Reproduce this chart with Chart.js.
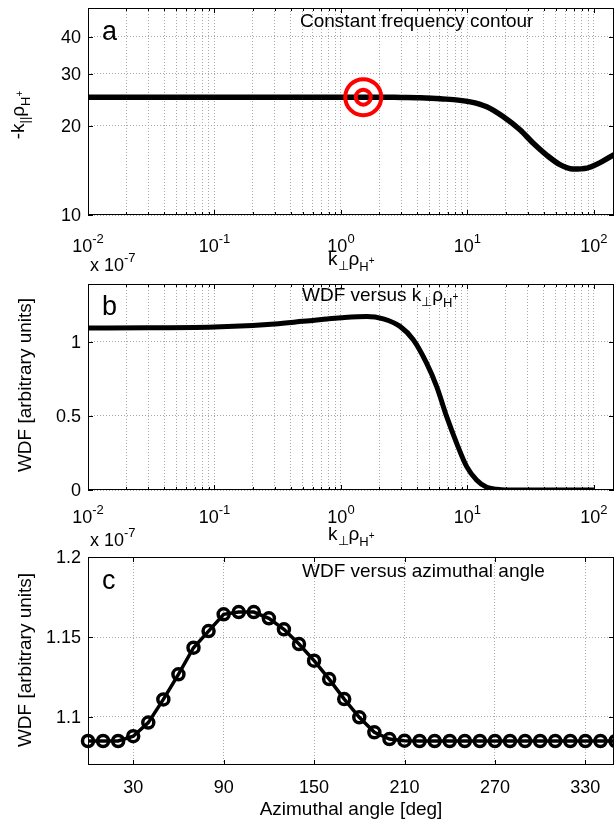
<!DOCTYPE html>
<html>
<head>
<meta charset="utf-8">
<script src="https://cdn.jsdelivr.net/npm/chart.js@4.4.0/dist/chart.umd.min.js"></script>
<style>
  body { margin: 0; background: #fff; }
  #wrap { position: relative; width: 614px; height: 822px; }
  canvas { position: absolute; left: 0; top: 0; }
</style>
</head>
<body>
<div id="wrap">
  <canvas id="chartA" width="614" height="822"></canvas>
  <canvas id="chartB" width="614" height="822"></canvas>
  <canvas id="chartC" width="614" height="822"></canvas>
</div>
<script>
// data
// panel a: constant frequency contour (k_perp in units of 1e-7)
const kPerpA = [0.01, 0.03, 0.1, 0.3, 1, 2, 3, 4.2, 6.1, 10.5, 14.2, 19.1, 26, 33, 42.5, 53.8, 68.2, 88, 111, 144];
const kParA = [25.0, 25.0, 25.0, 25.0, 25.0, 25.0, 24.95, 24.9, 24.7, 24.1, 23.2, 21.5, 19.4, 17.5, 15.9, 14.8, 14.3, 14.4, 15.0, 16.0];
// red target marker
const targetK = [1.5];
const targetPar = [25.0];

// panel b: WDF versus k_perp
const kPerpB = [0.01, 0.03, 0.1, 0.2, 0.3, 0.5, 0.7, 1, 1.6, 2.16, 2.93, 3.73, 4.75, 5.71, 6.85, 8.22, 9.86, 11.8, 14.2, 17, 20, 50, 100];
const wdfB = [1.093, 1.094, 1.10, 1.11, 1.12, 1.138, 1.15, 1.162, 1.171, 1.155, 1.104, 1.014, 0.856, 0.698, 0.495, 0.315, 0.158, 0.068, 0.018, 0.005, 0, 0, 0];

// panel c: WDF versus azimuthal angle
const angles = [0, 10, 20, 30, 40, 50, 60, 70, 80, 90, 100, 110, 120, 130, 140, 150, 160, 170,
                180, 190, 200, 210, 220, 230, 240, 250, 260, 270, 280, 290, 300, 310, 320, 330, 340, 350];
const wdfC = [1.085, 1.085, 1.085, 1.088, 1.0965, 1.111, 1.1267, 1.1433, 1.1537, 1.1642, 1.1656, 1.1656,
              1.1617, 1.1548, 1.1456, 1.1352, 1.1237, 1.1112, 1.0998, 1.0904, 1.0862, 1.0852, 1.085, 1.085,
              1.085, 1.085, 1.085, 1.085, 1.085, 1.085, 1.085, 1.085, 1.085, 1.085, 1.085, 1.085];

// ticks
const decadeTicks = [0.01, 0.1, 1, 10, 100];
const decadeExps = ['-2', '-1', '0', '1', '2'];
const minorSteps = [2, 3, 4, 5, 6, 7, 8, 9];
const yTicksA = [10, 20, 30, 40];
const yTicksB = [0, 0.5, 1];
const yLabelsB = ['0', '0.5', '1'];
const xTicksC = [30, 90, 150, 210, 270, 330];
const yTicksC = [1.1, 1.15, 1.2];
const yLabelsC = ['1.1', '1.15', '1.2'];

const FONT = '"Liberation Sans", Arial, sans-serif';
const GRID = '#a8a8a8';
const X_MAX_LOG = 144;
const logMinor = decadeTicks.flatMap(d => minorSteps.map(m => d * m)).filter(v => v < X_MAX_LOG);
const logGrid = decadeTicks.concat(logMinor);

// helpers
function runs(ctx, x, y, parts, align) {
    let w = 0;
    parts.forEach(p => { ctx.font = p[1] + 'px ' + FONT; w += ctx.measureText(p[0]).width; });
    let cx = align === 'center' ? x - w / 2 : (align === 'right' ? x - w : x);
    ctx.textAlign = 'left';
    ctx.textBaseline = 'alphabetic';
    parts.forEach(p => {
        ctx.font = p[1] + 'px ' + FONT;
        ctx.fillText(p[0], cx, y + (p[2] || 0));
        cx += ctx.measureText(p[0]).width;
    });
}

function rotated(ctx, x, y, parts) {
    ctx.save();
    ctx.translate(x, y);
    ctx.rotate(-Math.PI / 2);
    runs(ctx, 0, 0, parts, 'center');
    ctx.restore();
}

function xMarks(ctx, scale, a, values, len) {
    values.forEach(v => {
        const px = Math.round(scale.getPixelForValue(v)) + 0.5;
        ctx.moveTo(px, a.bottom); ctx.lineTo(px, a.bottom - len);
        ctx.moveTo(px, a.top); ctx.lineTo(px, a.top + len);
    });
}

function yMarks(ctx, scale, a, values, len) {
    values.forEach(v => {
        const py = Math.round(scale.getPixelForValue(v)) + 0.5;
        ctx.moveTo(a.left, py); ctx.lineTo(a.left + len, py);
        ctx.moveTo(a.right, py); ctx.lineTo(a.right - len, py);
    });
}

// frame, inward ticks and all the text of one panel
function panelPlugin(cfg) {
    return {
        id: 'panel' + cfg.letter,
        beforeDatasetsDraw(chart) {
            const { ctx, chartArea: a, scales: { x, y } } = chart;
            ctx.save();
            ctx.strokeStyle = '#000';
            ctx.lineWidth = 1;
            ctx.beginPath();
            xMarks(ctx, x, a, cfg.xMajor, 5);
            if (cfg.xMinor) xMarks(ctx, x, a, cfg.xMinor, 3);
            yMarks(ctx, y, a, cfg.yMajor, 5);
            ctx.stroke();
            ctx.strokeRect(a.left + 0.5, a.top + 0.5, a.right - a.left - 1, a.bottom - a.top - 1);
            ctx.restore();
        },
        afterDraw(chart) {
            const { ctx, scales: { x, y } } = chart;
            ctx.save();
            ctx.fillStyle = '#000';
            // y tick labels
            cfg.yMajor.forEach((v, i) => {
                runs(ctx, 81, y.getPixelForValue(v) + 6, [[cfg.yLabels[i], 18]], 'right');
            });
            // x tick labels
            if (cfg.logX) {
                decadeTicks.forEach((v, i) => {
                    runs(ctx, x.getPixelForValue(v), cfg.xLabelY, [['10', 18], [decadeExps[i], 13, -9]], 'center');
                });
                runs(ctx, 90, cfg.multY, [['x 10', 18], ['-7', 13, -9]], 'left');
            } else {
                cfg.xMajor.forEach(v => {
                    runs(ctx, x.getPixelForValue(v), cfg.xLabelY, [[String(v), 18]], 'center');
                });
            }
            // axis titles, panel title, letter
            runs(ctx, cfg.xTitle[0], cfg.xTitle[1], cfg.xTitle[2], cfg.xTitle[3]);
            rotated(ctx, cfg.yTitle[0], cfg.yTitle[1], cfg.yTitle[2]);
            runs(ctx, cfg.title[0], cfg.title[1], cfg.title[2], 'left');
            runs(ctx, 102, cfg.letterY, [[cfg.letter, 27]], 'left');
            ctx.restore();
        }
    };
}

function baseOptions(padTop, padBottom, xScale, yScale) {
    return {
        responsive: false,
        animation: false,
        devicePixelRatio: 1,
        events: [],
        layout: { autoPadding: false, padding: { left: 88, top: padTop, right: 0, bottom: padBottom } },
        plugins: { legend: { display: false }, tooltip: { enabled: false } },
        scales: { x: xScale, y: yScale }
    };
}

function axis(type, min, max, gridValues) {
    return {
        type: type,
        min: min,
        max: max,
        afterBuildTicks: s => { s.ticks = gridValues.map(v => ({ value: v })); },
        ticks: { display: false },
        grid: { color: GRID, lineWidth: 1, drawTicks: false },
        border: { display: false, dash: [1, 2] }
    };
}

const kSubParts = [['k', 19], ['\u22A5', 13, 5], ['\u03C1', 19], ['H', 13, 6], ['+', 10, -1]];

// panel a
new Chart(document.getElementById('chartA'), {
    type: 'line',
    data: {
        datasets: [{
            data: kPerpA.map((k, i) => ({ x: k, y: kParA[i] })),
            borderColor: '#000',
            borderWidth: 5.5,
            pointRadius: 0,
            cubicInterpolationMode: 'monotone',
            order: 2
        }, {
            data: [{ x: targetK[0], y: targetPar[0] }, { x: targetK[0], y: targetPar[0] }],
            showLine: false,
            pointRadius: [18, 7.5],
            pointBorderWidth: 4,
            pointBorderColor: '#ff0000',
            pointBackgroundColor: 'rgba(0,0,0,0)',
            order: 1
        }]
    },
    options: baseOptions(8, 822 - 215,
        axis('logarithmic', 0.01, X_MAX_LOG, logGrid),
        axis('logarithmic', 10, 50, yTicksA)),
    plugins: [panelPlugin({
        letter: 'a', letterY: 40, logX: true,
        xMajor: decadeTicks, xMinor: logMinor,
        yMajor: yTicksA, yLabels: yTicksA.map(String),
        xLabelY: 252, multY: 271,
        xTitle: [328, 265, kSubParts, 'left'],
        yTitle: [24, 115, [['-k', 19], ['||', 13, 5], ['\u03C1', 19], ['H', 13, 6], ['+', 10, -1]]],
        title: [300, 27, [['Constant frequency contour', 19]]]
    })]
});

// panel b
new Chart(document.getElementById('chartB'), {
    type: 'line',
    data: {
        datasets: [{
            data: kPerpB.map((k, i) => ({ x: k, y: wdfB[i] })),
            borderColor: '#000',
            borderWidth: 5,
            pointRadius: 0,
            cubicInterpolationMode: 'monotone'
        }]
    },
    options: baseOptions(284, 822 - 490,
        axis('logarithmic', 0.01, X_MAX_LOG, logGrid),
        axis('linear', 0, 1.39, yTicksB)),
    plugins: [panelPlugin({
        letter: 'b', letterY: 315, logX: true,
        xMajor: decadeTicks, xMinor: logMinor,
        yMajor: yTicksB, yLabels: yLabelsB,
        xLabelY: 523, multY: 546,
        xTitle: [328, 540, kSubParts, 'left'],
        yTitle: [31, 385, [['WDF [arbitrary units]', 19]]],
        title: [302, 301, [['WDF versus k', 19], ['\u22A5', 13, 5], ['\u03C1', 19], ['H', 13, 6], ['+', 10, -1]]]
    })]
});

// panel c
new Chart(document.getElementById('chartC'), {
    type: 'line',
    data: {
        datasets: [{
            data: angles.map((a, i) => ({ x: a, y: wdfC[i] })),
            borderColor: '#000',
            borderWidth: 3.5,
            pointRadius: 5.5,
            pointBorderWidth: 3.5,
            pointBorderColor: '#000',
            pointBackgroundColor: 'rgba(0,0,0,0)',
            clip: false
        }]
    },
    options: baseOptions(557, 822 - 765,
        axis('linear', 0, 349, xTicksC),
        axis('linear', 1.07, 1.2, yTicksC)),
    plugins: [panelPlugin({
        letter: 'c', letterY: 589, logX: false,
        xMajor: xTicksC,
        yMajor: yTicksC, yLabels: yLabelsC,
        xLabelY: 793,
        xTitle: [351, 815, [['Azimuthal angle [deg]', 19]], 'center'],
        yTitle: [31, 660, [['WDF [arbitrary units]', 19]]],
        title: [302, 577, [['WDF versus azimuthal angle', 19]]]
    })]
});
</script>
</body>
</html>
